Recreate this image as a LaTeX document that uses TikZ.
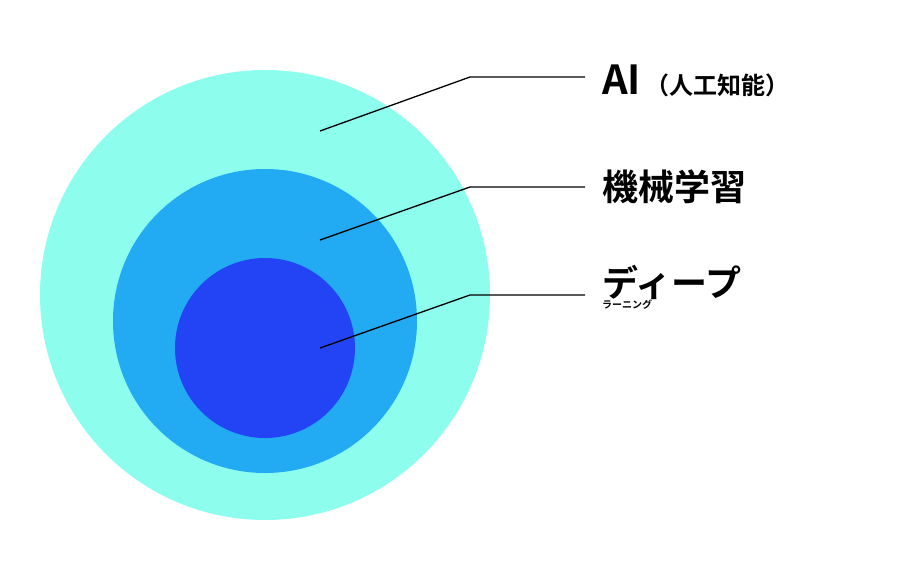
\documentclass[tikz,border=0pt]{standalone}
\usepackage{fontspec}
\newfontfamily\cjk{Noto Sans CJK JP Bold}
\definecolor{c1}{HTML}{8DFDEE}
\definecolor{c2}{HTML}{22AAF2}
\definecolor{c3}{HTML}{2244F5}
\begin{document}
\begin{tikzpicture}[x=1pt,y=-1pt,
  lead/.style={draw=black,line width=1.3pt},
  lab/.style={anchor=west,inner sep=0pt,font=\cjk}]
\useasboundingbox (0,0) rectangle (900,563);
\fill[c1] (265,295) circle (225);
\fill[c2] (265,321) circle (152);
\fill[c3] (265,348) circle (90);
\coordinate (a1) at (320,131); \coordinate (a2) at (470,77); \coordinate (a3) at (585,77);
\coordinate (b1) at (320,240); \coordinate (b2) at (470,187); \coordinate (b3) at (585,187);
\coordinate (d1) at (320,348); \coordinate (d2) at (470,295); \coordinate (d3) at (585,295);
\draw[lead] (a1)--(a2)--(a3);
\draw[lead] (b1)--(b2)--(b3);
\draw[lead] (d1)--(d2)--(d3);
\node[lab] (ai) at (602,81) {\fontsize{40}{44}\selectfont AI\fontsize{24}{28}\selectfont\,（人工知能）};
\node[lab] (ml) at (602,187) {\fontsize{36}{40}\selectfont 機械学習};
\node[lab,align=left,anchor=north west] (dl) at (602,265) {\fontsize{36}{50}\selectfont ディープ\\ラーニング};
\end{tikzpicture}
\end{document}
